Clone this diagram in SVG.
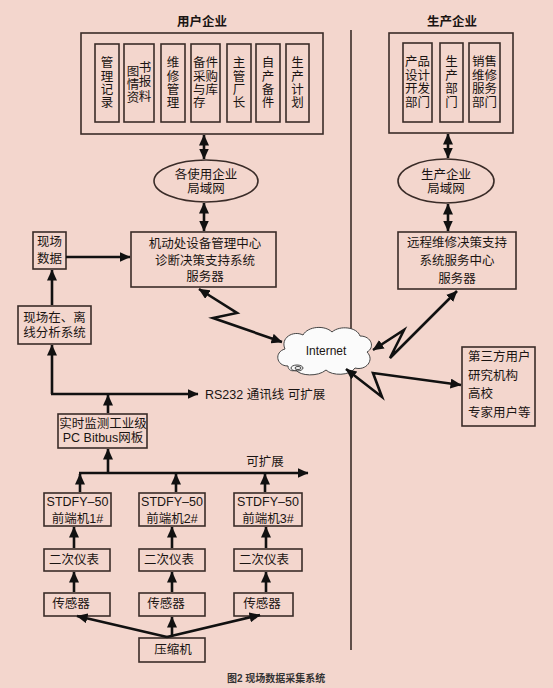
<svg xmlns="http://www.w3.org/2000/svg" width="553" height="688" viewBox="0 0 553 688">
<defs>
<marker id="ah" markerUnits="userSpaceOnUse" markerWidth="11" markerHeight="10" refX="10.5" refY="5" orient="auto-start-reverse" viewBox="0 0 11 10">
<path d="M0,0 L11,5 L0,10 z" fill="#111"/>
</marker>
<style>
.bx{fill:none;stroke:#3a2c28;stroke-width:1.6}
.t{font-family:"Liberation Sans","Noto Sans CJK SC",sans-serif;font-size:12.5px;fill:#1a1412;dominant-baseline:central}
.c{text-anchor:middle}
.b{font-weight:bold}
.ln{stroke:#111;stroke-width:2.6;fill:none}
.a{marker-end:url(#ah)}
.aa{marker-start:url(#ah);marker-end:url(#ah)}
</style>
</defs>
<rect width="553" height="688" fill="#f3d6cd"/>
<line x1="351" y1="30" x2="351" y2="650" stroke="#3a2c28" stroke-width="1.6"/>

<g id="user-enterprise">
<text class="t c b" x="202" y="22">用户企业</text>
<rect class="bx" x="81" y="33" width="242" height="101"/>
<g id="n-glj"><rect class="bx" x="95" y="44" width="24" height="78"/>
<text class="t c" x="107" y="63">管</text><text class="t c" x="107" y="77">理</text><text class="t c" x="107" y="90">记</text><text class="t c" x="107" y="103">录</text></g>
<g id="n-tsqb"><rect class="bx" x="124" y="44" width="30" height="78"/>
<text class="t c" x="133" y="72">图</text><text class="t c" x="133" y="85">情</text><text class="t c" x="133" y="98">资</text>
<text class="t c" x="145" y="68">书</text><text class="t c" x="145" y="82">报</text><text class="t c" x="145" y="97">料</text></g>
<g id="n-wxgl"><rect class="bx" x="161" y="44" width="24" height="78"/>
<text class="t c" x="173" y="63">维</text><text class="t c" x="173" y="77">修</text><text class="t c" x="173" y="90">管</text><text class="t c" x="173" y="103">理</text></g>
<g id="n-bjcg"><rect class="bx" x="191" y="44" width="29" height="78"/>
<text class="t c" x="205.5" y="63">备件</text><text class="t c" x="205.5" y="77">采购</text><text class="t c" x="205.5" y="90">与库</text><text class="t" x="193" y="103">存</text></g>
<g id="n-zgcz"><rect class="bx" x="227" y="44" width="24" height="78"/>
<text class="t c" x="239" y="63">主</text><text class="t c" x="239" y="77">管</text><text class="t c" x="239" y="90">厂</text><text class="t c" x="239" y="103">长</text></g>
<g id="n-zcbj"><rect class="bx" x="256" y="44" width="24" height="78"/>
<text class="t c" x="268" y="63">自</text><text class="t c" x="268" y="77">产</text><text class="t c" x="268" y="90">备</text><text class="t c" x="268" y="103">件</text></g>
<g id="n-scjh"><rect class="bx" x="286" y="44" width="23" height="78"/>
<text class="t c" x="297.5" y="63">生</text><text class="t c" x="297.5" y="77">产</text><text class="t c" x="297.5" y="90">计</text><text class="t c" x="297.5" y="103">划</text></g>
</g>

<g id="prod-enterprise">
<text class="t c b" x="452" y="22">生产企业</text>
<rect class="bx" x="389" y="33" width="124" height="100"/>
<g id="n-cpsj"><rect class="bx" x="403" y="43" width="29" height="79"/>
<text class="t c" x="417.5" y="62">产品</text><text class="t c" x="417.5" y="76">设计</text><text class="t c" x="417.5" y="89">开发</text><text class="t c" x="417.5" y="103">部门</text></g>
<g id="n-scbm"><rect class="bx" x="440" y="43" width="23" height="79"/>
<text class="t c" x="451.5" y="62">生</text><text class="t c" x="451.5" y="76">产</text><text class="t c" x="451.5" y="89">部</text><text class="t c" x="451.5" y="103">门</text></g>
<g id="n-xswx"><rect class="bx" x="469" y="43" width="31" height="79"/>
<text class="t c" x="484.5" y="62">销售</text><text class="t c" x="484.5" y="76">维修</text><text class="t c" x="484.5" y="89">服务</text><text class="t c" x="484.5" y="103">部门</text></g>
</g>

<g id="lan-user"><ellipse class="bx" cx="206" cy="181" rx="52" ry="21"/>
<text class="t c" x="206" y="175">各使用企业</text><text class="t c" x="206" y="189">局域网</text></g>
<g id="lan-prod"><ellipse class="bx" cx="446" cy="181" rx="48" ry="22"/>
<text class="t c" x="446" y="175">生产企业</text><text class="t c" x="446" y="189">局域网</text></g>

<g id="center-server"><rect class="bx" x="131" y="232" width="145" height="55"/>
<text class="t c" x="205" y="244">机动处设备管理中心</text><text class="t c" x="205" y="261">诊断决策支持系统</text><text class="t c" x="205" y="277">服务器</text></g>
<g id="remote-server"><rect class="bx" x="398" y="232" width="118" height="57"/>
<text class="t c" x="457" y="243">远程维修决策支持</text><text class="t c" x="457" y="261">系统服务中心</text><text class="t c" x="457" y="279">服务器</text></g>

<g id="field-data"><rect class="bx" x="33" y="232" width="33" height="37"/>
<text class="t c" x="49.5" y="242">现场</text><text class="t c" x="49.5" y="259">数据</text></g>
<g id="analysis"><rect class="bx" x="18" y="306" width="73" height="38"/>
<text class="t c" x="54.5" y="318">现场在、离</text><text class="t c" x="54.5" y="333">线分析系统</text></g>

<g id="internet">
<path d="M288,366 C276,366 274,352 285,349 C280,338 293,330 303,335 C308,326 325,325 332,332 C340,325 357,327 360,336 C372,336 375,348 367,352 C375,360 366,371 355,368 C350,376 332,376 326,370 C318,377 300,376 296,370 C292,372 288,370 288,366 Z" fill="#fbfbfb" stroke="#444" stroke-width="1"/>
<ellipse cx="297" cy="368" rx="6" ry="3" fill="none" stroke="#444" stroke-width="1"/>
<ellipse cx="298" cy="368" rx="3" ry="1.5" fill="none" stroke="#444" stroke-width="1"/>
<text class="t c" x="326" y="351" style="font-size:12px">Internet</text></g>

<g id="third-party"><rect class="bx" x="462" y="347" width="73" height="79"/>
<text class="t" x="468" y="357">第三方用户</text><text class="t" x="468" y="376">研究机构</text><text class="t" x="468" y="394">高校</text><text class="t" x="468" y="413">专家用户等</text></g>

<g id="bitbus"><rect class="bx" x="58" y="414" width="89" height="34"/>
<text class="t c" x="103" y="424">实时监测工业级</text><text class="t c" x="103" y="438">PC Bitbus网板</text></g>

<g id="fe1"><rect class="bx" x="44" y="493" width="67" height="33"/><text class="t c" x="77.5" y="502">STDFY–50</text><text class="t c" x="77.5" y="519">前端机1#</text></g>
<g id="fe2"><rect class="bx" x="139" y="493" width="66" height="33"/><text class="t c" x="172" y="502">STDFY–50</text><text class="t c" x="172" y="519">前端机2#</text></g>
<g id="fe3"><rect class="bx" x="234" y="493" width="68" height="33"/><text class="t c" x="268" y="502">STDFY–50</text><text class="t c" x="268" y="519">前端机3#</text></g>

<g id="inst1"><rect class="bx" x="44" y="549" width="66" height="22"/><text class="t c" x="74" y="560">二次仪表</text></g>
<g id="inst2"><rect class="bx" x="139" y="549" width="66" height="22"/><text class="t c" x="169" y="560">二次仪表</text></g>
<g id="inst3"><rect class="bx" x="234" y="549" width="68" height="22"/><text class="t c" x="264" y="560">二次仪表</text></g>

<g id="sen1"><rect class="bx" x="44" y="593" width="66" height="23"/><text class="t c" x="71" y="604">传感器</text></g>
<g id="sen2"><rect class="bx" x="139" y="593" width="66" height="23"/><text class="t c" x="166" y="604">传感器</text></g>
<g id="sen3"><rect class="bx" x="234" y="593" width="59" height="23"/><text class="t c" x="262" y="604">传感器</text></g>

<g id="compressor"><rect class="bx" x="139" y="638" width="66" height="24"/><text class="t c" x="173" y="650">压缩机</text></g>

<g id="connectors">
<line class="ln aa" x1="204" y1="135" x2="204" y2="159"/>
<line class="ln aa" x1="448" y1="134" x2="448" y2="158"/>
<line class="ln aa" x1="204" y1="203" x2="204" y2="231"/>
<line class="ln aa" x1="448" y1="204" x2="448" y2="231"/>
<line class="ln a" x1="66" y1="257" x2="130" y2="257"/>
<line class="ln a" x1="52" y1="305" x2="52" y2="270"/>
<polyline class="ln aa" points="199,289 237,313 213,318 282,342"/>
<polyline class="ln aa" points="457,291 390,358 404,330 373,350"/>
<polyline class="ln aa" points="346,369 382,397 373,373 461,385"/>
<line class="ln a" x1="52" y1="394" x2="52" y2="345"/>
<line class="ln a" x1="51" y1="394" x2="198" y2="394"/>
<line class="ln a" x1="108" y1="413" x2="108" y2="395"/>
<line class="ln a" x1="108" y1="473" x2="108" y2="449"/>
<line class="ln a" x1="79" y1="473" x2="308" y2="473"/>
<line class="ln a" x1="80" y1="492" x2="80" y2="474"/>
<line class="ln a" x1="176" y1="492" x2="176" y2="474"/>
<line class="ln a" x1="265" y1="492" x2="265" y2="474"/>
<line class="ln a" x1="74" y1="548" x2="74" y2="527"/>
<line class="ln a" x1="172" y1="548" x2="172" y2="527"/>
<line class="ln a" x1="266" y1="548" x2="266" y2="527"/>
<line class="ln a" x1="74" y1="592" x2="74" y2="572"/>
<line class="ln a" x1="172" y1="592" x2="172" y2="572"/>
<line class="ln a" x1="266" y1="592" x2="266" y2="572"/>
<line class="ln a" x1="167" y1="637" x2="77" y2="616"/>
<line class="ln a" x1="172" y1="637" x2="172" y2="617"/>
<line class="ln a" x1="167" y1="637" x2="260" y2="615"/>
</g>

<text class="t" x="205" y="395">RS232 通讯线  可扩展</text>
<text class="t c" x="265" y="462">可扩展</text>
<text class="t" x="227" y="678" style="font-size:10px;font-weight:bold;fill:#333">图2 现场数据采集系统</text>
</svg>
